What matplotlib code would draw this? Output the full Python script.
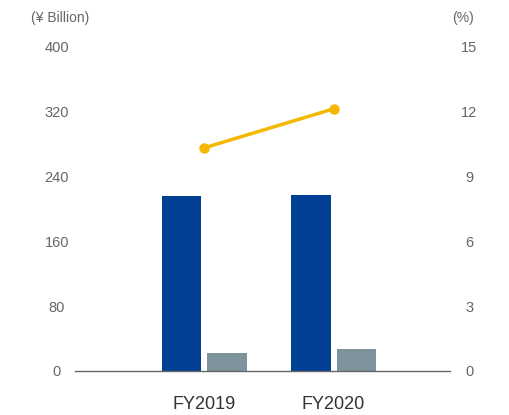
import matplotlib
matplotlib.use("Agg")
import matplotlib.pyplot as plt
import numpy as np

categories = ["FY2019", "FY2020"]
blue_values = [215.5, 216.5]
grey_values = [22.5, 27.5]
pct_values = [10.3, 12.1]
left_ticks = [0, 80, 160, 240, 320, 400]
right_ticks = [0, 3, 6, 9, 12, 15]

plt.rcParams['font.family'] = ['Liberation Sans', 'DejaVu Sans']

fig = plt.figure(figsize=(5.09, 4.15), dpi=100)
ax = fig.add_axes([75/509, 1-371/415, 375/509, 325/415])
x = np.arange(len(categories))
w = 0.305
off = 0.176
ax.bar(x - off, blue_values, width=w, color="#003F94", zorder=2)
ax.bar(x + off, grey_values, width=w, color="#7F939C", zorder=2)
ax.set_xlim(-1.0, 1.9)
ax.set_ylim(0, 400)
ax.set_yticks(left_ticks)
ax.set_yticklabels([str(t) for t in left_ticks])
for s in ["top", "right", "left"]:
    ax.spines[s].set_visible(False)
ax.spines["bottom"].set_color("#666666")
ax.spines["bottom"].set_linewidth(1.0)
ax.tick_params(axis="y", length=0, pad=13, labelsize=10.5, labelcolor="#666666")
for lab in ax.get_yticklabels():
    lab.set_horizontalalignment("center")
ax.set_xticks(x)
ax.set_xticklabels(categories)
ax.tick_params(axis="x", length=0, pad=18, labelsize=13, labelcolor="#333333")

ax2 = ax.twinx()
ax2.set_ylim(0, 15)
ax2.set_yticks(right_ticks)
ax2.set_yticklabels([str(t) for t in right_ticks])
for s in ["top", "right", "left", "bottom"]:
    ax2.spines[s].set_visible(False)
ax2.tick_params(axis="y", length=0, pad=14, labelsize=10.5, labelcolor="#666666")
for lab in ax2.get_yticklabels():
    lab.set_horizontalalignment("center")
ax2.plot(x, pct_values, color="#F5B800", linewidth=2.5, marker="o", markersize=6.5, zorder=3)

fig.text(60/509, 1-18/415, "(¥ Billion)", ha="center", va="center", fontsize=10, color="#666666")
fig.text(463/509, 1-18/415, "(%)", ha="center", va="center", fontsize=10, color="#666666")

fig.savefig("out.png", dpi=100)
